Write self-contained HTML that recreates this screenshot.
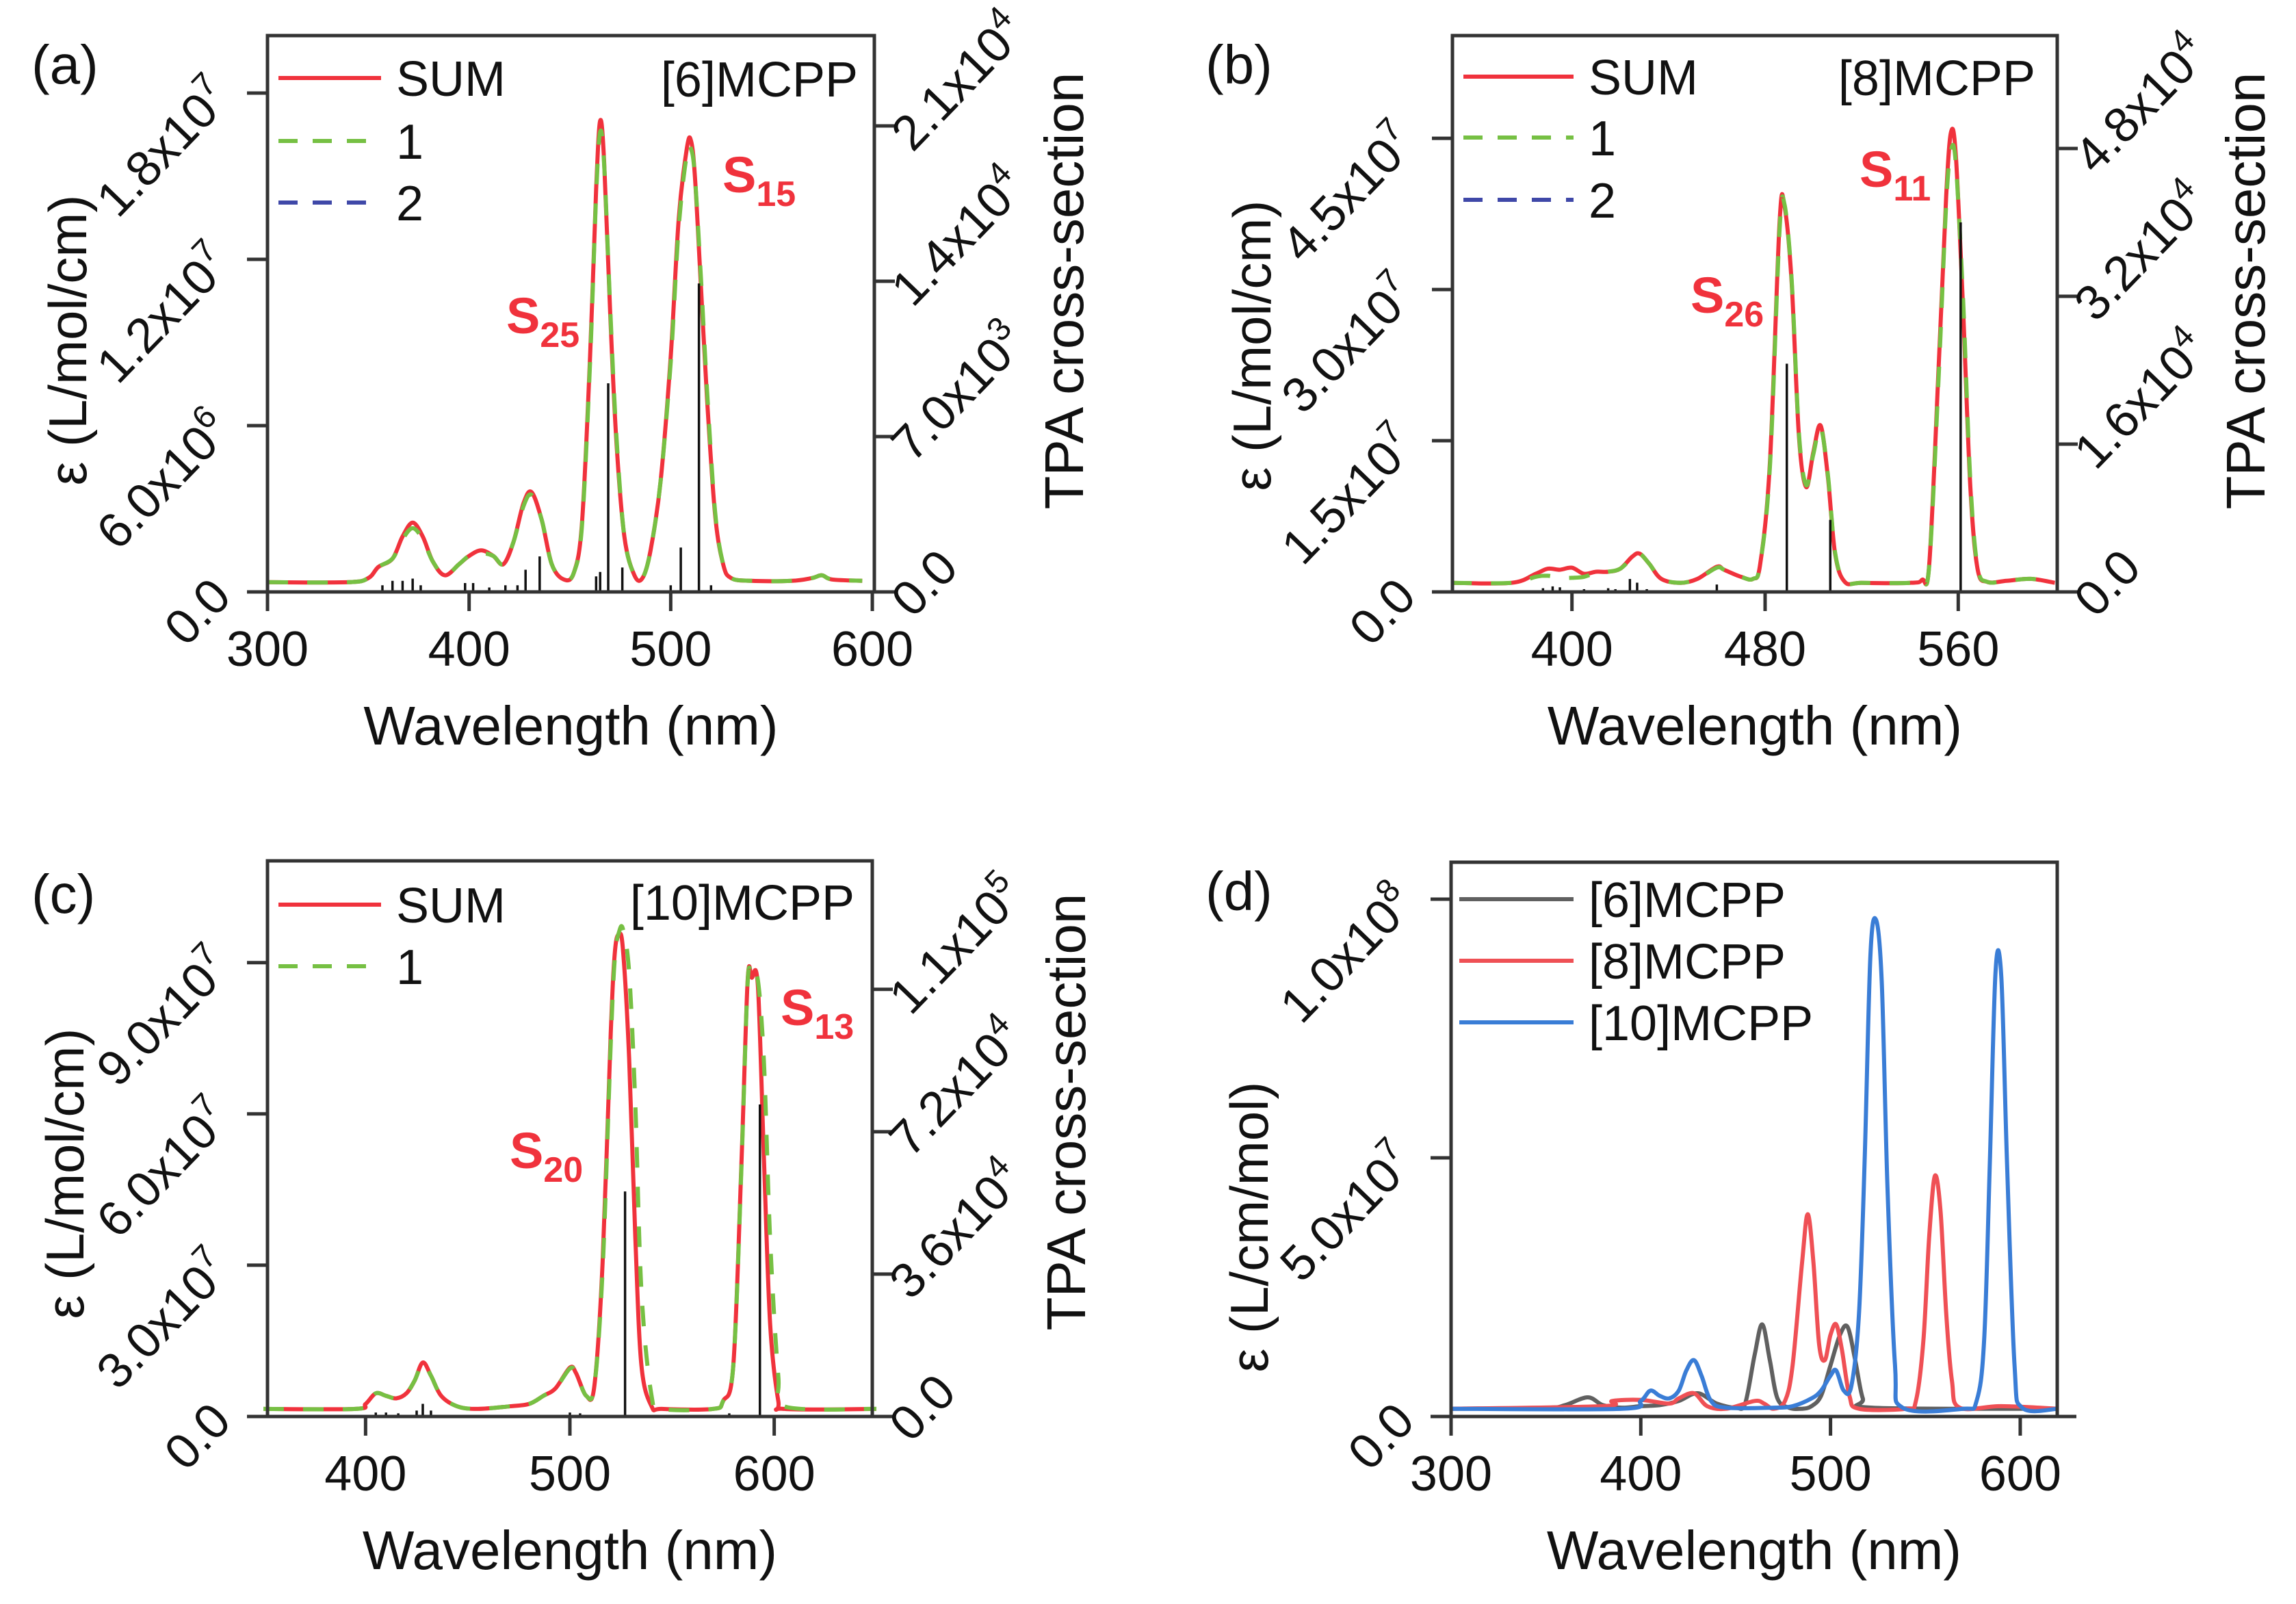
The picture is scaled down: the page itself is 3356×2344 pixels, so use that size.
<!DOCTYPE html>
<html><head><meta charset="utf-8"><style>
html,body{margin:0;padding:0;background:#fff}
svg{display:block}
text{font-family:"Liberation Sans",Arial,sans-serif;fill:#111}
</style></head>
<body>
<svg id="fig" width="3356" height="2344" viewBox="0 0 3356 2344" xmlns="http://www.w3.org/2000/svg">
<rect width="3356" height="2344" fill="#fff"/>
</svg>
<script>
// ---------- Panel (a) data ([6]MCPP), eps in 1e6, TPA in 1e3 ----------
const aWl  = [300,340,350,355,362,367,372,377,382,388,395,400,406,412,417,422,427,431,436,441,447,452,456,460,463,465,467,470,473,477,482,486,490,495,500,504,508,510,512,515,518,522,526,530,540,560,570,575,580,595];
const aSum = [0.35,0.35,0.5,0.9,1.2,2.0,2.5,2.0,1.1,0.6,1.0,1.3,1.5,1.3,1.0,1.8,3.2,3.6,2.6,1.0,0.45,0.7,2.5,8.5,14.5,17.0,15.5,10,5.5,2.0,0.6,0.5,1.5,4.0,8.5,13.5,16.0,16.3,15.0,11,7,2.8,1.0,0.5,0.4,0.4,0.5,0.6,0.45,0.4];
const aOne = [0.35,0.35,0.5,0.9,1.2,1.9,2.3,1.9,1.1,0.6,1.0,1.3,1.4,1.3,1.0,1.8,3.1,3.5,2.6,1.0,0.45,0.7,2.4,8.3,14.3,16.6,15.4,10.2,5.7,2.0,0.6,0.5,1.5,4.0,8.3,13.2,15.8,16.0,15.0,11.3,7.3,2.9,1.0,0.5,0.4,0.4,0.5,0.6,0.45,0.4];
const aStickWl  = [357,362,367,372,376,398,402,410,418,424,428,435,463,465,469,476,500,505,514,520];
const aStickVal = [0.3,0.5,0.5,0.6,0.3,0.4,0.4,0.2,0.3,0.3,1.0,1.6,0.7,0.9,9.4,1.1,0.3,2.0,13.9,0.3];
const aLeftTicks  = [0,6,12,18];
const aLeftLabels = [["0.0",""],["6.0x10","6"],["1.2x10","7"],["1.8x10","7"]];
const aRightTicks = [0,7,14,21];
const aRightLabels= [["0.0",""],["7.0x10","3"],["1.4x10","4"],["2.1x10","4"]];
const aXTicks = [300,400,500,600];

// ---------- Panel (b) data ([8]MCPP) ----------
const bWl  = [350,375,385,390,395,400,405,410,415,420,425,428,432,437,445,452,460,463,470,475,478,482,486,488,491,494,497,500,503,506,509,513,520,540,545,548,552,555,557,559,562,565,568,572,580,590,600];
const bSum = [0.9,0.9,1.8,2.3,2.2,2.4,1.8,2.0,2.0,2.3,3.5,3.8,2.8,1.3,0.9,1.3,2.5,2.2,1.5,1.3,2.8,12.9,36.7,38.3,30.7,15.5,10.4,13.9,16.5,11.4,3.8,1.0,0.9,0.9,1.2,2.8,23,39.3,45.6,43.3,28.1,10.4,2.3,1.0,1.1,1.3,0.9];
const bOne = [0.9,0.9,1.5,1.6,1.4,1.4,1.5,1.9,2.0,2.3,3.4,3.8,2.8,1.3,0.9,1.3,2.4,2.2,1.5,1.3,2.8,12.5,36.0,38.5,31.0,15.8,10.6,13.7,16.3,11.6,3.9,1.0,0.9,0.9,1.2,2.7,22,38.5,43.8,42.5,29,11,2.5,1.0,1.1,1.3,0.9];
const bStickWl  = [388,392,395,405,415,418,424,427,431,460,489,507,561];
const bStickVal = [0.4,0.6,0.5,0.3,0.4,0.3,1.4,1.0,0.3,0.8,24.7,7.8,40];
const bLeftTicks  = [0,15,30,45];
const bLeftLabels = [["0.0",""],["1.5x10","7"],["3.0x10","7"],["4.5x10","7"]];
const bRightTicks = [0,16,32,48];
const bRightLabels= [["0.0",""],["1.6x10","4"],["3.2x10","4"],["4.8x10","4"]];
const bXTicks = [400,480,560];

// ---------- Panel (c) data ([10]MCPP) ----------
const cWl  = [350,395,400,405,410,415,420,424,428,432,437,445,455,470,480,487,493,500,503,508,512,516,520,522,524,526,529,532,535,540,545,570,575,580,584,587,589,592,595,598,602,605,650];
const cSum = [1.5,1.5,2.5,4.6,4.1,3.6,4.6,7.1,10.7,8.1,4.1,2.0,1.5,2.0,2.5,4.1,5.6,9.7,8.6,4.1,6.1,30.5,76,92,95.6,92.5,71,35.6,10.2,2.0,1.5,1.5,3.1,10.2,50.8,86.4,87,85.4,50.8,18.3,3.1,1.5,1.5];
const cOne = [1.5,1.5,2.5,4.6,4.1,3.6,4.6,7.1,10.5,8.1,4.1,2.0,1.5,2.0,2.5,4.1,5.6,9.5,8.6,4.1,6.1,29,74,91,96,96.6,88,62,25,4,1.5,1.5,3.1,10.2,50,86,87,86.5,70,35,8,2,1.5];
const cStickWl  = [405,410,416,425,428,432,500,505,527,578,593];
const cStickVal = [1.0,1.0,0.8,1.5,3.2,1.5,1.0,0.8,56.9,0.8,78.9];
const cLeftTicks  = [0,30,60,90];
const cLeftLabels = [["0.0",""],["3.0x10","7"],["6.0x10","7"],["9.0x10","7"]];
const cRightTicks = [0,36,72,108];
const cRightLabels= [["0.0",""],["3.6x10","4"],["7.2x10","4"],["1.1x10","5"]];
const cXTicks = [400,500,600];

// ---------- Panel (d) data (comparison, eps in 1e6) ----------
const d6Wl  = [300,350,360,372,380,390,400,410,420,430,440,450,455,460,464,468,472,478,485,490,495,500,505,509,513,517,522,620];
const d6Val = [1.5,1.7,2.2,3.7,2.2,1.7,2.0,2.2,3.0,4.5,2.5,1.7,2.5,11.9,17.8,10.9,3.5,1.7,1.5,2.0,4.0,9.9,15.8,17.3,10.9,3.5,1.7,1.5];
const d8Wl  = [300,380,385,400,415,420,428,435,445,460,465,470,476,480,485,488,491,494,497,500,503,506,510,515,540,545,549,552,555,558,561,564,568,590,620];
const d8Val = [1.5,2.0,3.0,3.2,2.5,3.5,4.5,2.0,1.5,3.0,2.5,1.5,3.0,9.9,29.7,39.1,29.7,13.9,10.9,15.8,17.8,12.9,4.0,1.5,1.5,3.0,14.9,34.7,46.5,39.6,19.8,6.9,1.7,2.0,1.5];
const d10Wl = [300,390,400,405,410,415,420,424,428,432,437,445,470,480,490,495,500,503,507,511,515,518,521,524,527,530,534,538,570,577,581,584,587,590,593,597,601,620];
const d10Val= [1.5,1.5,3.0,5.0,4.0,3.5,5.0,8.9,10.9,7.9,3.0,1.7,1.7,2.0,3.5,5.0,7.9,8.9,5.0,5.9,19.8,49.5,89,96,84,44.6,9.9,1.7,1.5,3.0,14.9,49.5,86.1,85.1,49.5,9.9,1.7,1.5];
const dLeftTicks  = [0,50,100];
const dLeftLabels = [["0.0",""],["5.0x10","7"],["1.0x10","8"]];
const dXTicks = [300,400,500,600];

const NS = "http://www.w3.org/2000/svg";
const svg = document.getElementById('fig');
const RED="#f0323c", GREEN="#76c043", NAVY="#3f48a8";

function mk(parent, tag, attrs, name, inter){
  const el = document.createElementNS(NS, tag);
  for (const k in attrs) el.setAttribute(k, attrs[k]);
  
  
  parent.appendChild(el);
  return el;
}
function txt(parent, x, y, s, size, name, extra){
  const t = mk(parent, 'text', Object.assign({x:x, y:y, 'font-size':size}, extra||{}), name, false);
  t.textContent = s;
  return t;
}
function smoothPath(pts){
  let d = "M" + pts[0][0].toFixed(1) + "," + pts[0][1].toFixed(1);
  for (let i=0;i<pts.length-1;i++){
    const p0 = pts[i>0?i-1:i], p1 = pts[i], p2 = pts[i+1], p3 = pts[i+2<pts.length?i+2:i+1];
    const t = 6;
    const c1x = p1[0]+(p2[0]-p0[0])/t, c1y = p1[1]+(p2[1]-p0[1])/t;
    const c2x = p2[0]-(p3[0]-p1[0])/t, c2y = p2[1]-(p3[1]-p1[1])/t;
    d += " C"+c1x.toFixed(1)+","+c1y.toFixed(1)+" "+c2x.toFixed(1)+","+c2y.toFixed(1)+" "+p2[0].toFixed(1)+","+p2[1].toFixed(1);
  }
  return d;
}
function rotLabel(parent, x, y, parts, anchor, name){
  const t = mk(parent, 'text', {x:0, y:0, 'font-size':72, 'text-anchor':anchor,
    transform:'translate('+x+','+y+') rotate(-46)'}, name, false);
  t.appendChild(document.createTextNode(parts[0]));
  if (parts[1]){
    const s = document.createElementNS(NS,'tspan');
    s.setAttribute('font-size', 48);
    s.setAttribute('dy', -30);
    s.textContent = parts[1];
    t.appendChild(s);
  }
  return t;
}

function panel(c){
  const g = mk(svg, 'g', {}, 'panel-'+c.id, false);
  const sx = w => c.L + (w - c.x0)/(c.x1 - c.x0)*(c.R - c.L);
  const syl = v => c.B - v*c.kl;
  const syr = v => c.B - v*c.kr;
  c.series.forEach(s=>{
    const pts = s.wl.map((w,i)=>[sx(w), syl(s.val[i])]);
    mk(g, 'path', {d:smoothPath(pts), fill:'none', stroke:s.color, 'stroke-width':6,
      'stroke-linejoin':'round', 'stroke-dasharray': s.dash||'none'}, s.name, false);
  });
  if (c.sticksWl){
    c.sticksWl.forEach((w,i)=>{
      mk(g, 'line', {x1:sx(w), x2:sx(w), y1:c.B, y2:syr(c.sticksVal[i]), stroke:'#111', 'stroke-width':3.5}, 'tpa-stick', false);
    });
  }
  mk(g, 'path', {d:'M'+c.L+','+c.B+' V'+c.T+' H'+c.R+' V'+c.B, fill:'none', stroke:'#333', 'stroke-width':5}, 'plot-frame', false);
  mk(g, 'line', {x1:c.L-28, x2:c.R+28, y1:c.B, y2:c.B, stroke:'#333', 'stroke-width':5}, 'x-axis-line', false);
  c.xt.forEach(v=>{
    mk(g, 'line', {x1:sx(v), x2:sx(v), y1:c.B, y2:c.B+28, stroke:'#333', 'stroke-width':5}, 'x-tick', false);
    txt(g, sx(v), c.B+108, String(v), 72, 'x-tick-label', {'text-anchor':'middle'});
  });
  c.lt.forEach((v,i)=>{
    mk(g, 'line', {x1:c.L-30, x2:c.L, y1:syl(v), y2:syl(v), stroke:'#333', 'stroke-width':5}, 'y-tick-left', false);
    rotLabel(g, c.L-50, syl(v)+10, c.ll[i], 'end', 'y-tick-label-left');
  });
  if (c.rt){
    c.rt.forEach((v,i)=>{
      mk(g, 'line', {x1:c.R, x2:c.R+30, y1:syr(v), y2:syr(v), stroke:'#333', 'stroke-width':5}, 'y-tick-right', false);
      rotLabel(g, c.R+56, syr(v)+40, c.rl[i], 'start', 'y-tick-label-right');
    });
  }
  txt(g, (c.L+c.R)/2, c.B+223, 'Wavelength (nm)', 80, 'x-axis-title', {'text-anchor':'middle'});
  txt(g, 0, 0, c.ylab, 78, 'y-axis-title', {'text-anchor':'middle', transform:'translate('+c.ylx+','+c.yly+') rotate(-90)'});
  if (c.rlab) txt(g, 0, 0, 'TPA cross-section', 80, 'y-axis-title-right', {'text-anchor':'middle', transform:'translate('+c.rlx+','+c.rly+') rotate(-90)'});
  txt(g, c.plx, c.ply, c.tag, 80, 'panel-label');
  c.legend.forEach((e,i)=>{
    const y = c.legY[i];
    mk(g, 'line', {x1:c.legX1, x2:c.legX2, y1:y, y2:y, stroke:e.color, 'stroke-width':6, 'stroke-dasharray':e.dash||'none'}, 'legend-line', false);
    txt(g, c.legX2+22, y+26, e.label, 72, 'legend-entry');
  });
  if (c.mol) txt(g, c.molX, c.molY, c.mol, 72, 'molecule-label', {'text-anchor':'end'});
  (c.states||[]).forEach(s=>{
    const t = mk(g, 'text', {x:s[0], y:s[1], 'font-size':74, 'font-weight':'bold', style:'fill:'+RED}, 'state-label', false);
    t.appendChild(document.createTextNode('S'));
    const sub = document.createElementNS(NS,'tspan');
    sub.setAttribute('font-size', 52);
    sub.setAttribute('dy', 20);
    sub.setAttribute('style', 'fill:'+RED);
    sub.textContent = s[2];
    t.appendChild(sub);
  });
  return g;
}

panel({id:'a', tag:'(a)', plx:46, ply:122, L:391, R:1278, T:52, B:865, x0:300, x1:601, kl:40.5, kr:32.43,
  series:[{wl:aWl,val:aSum,color:RED,name:'sum-curve'},{wl:aWl,val:aOne,color:GREEN,dash:'30 28',name:'conformer-1-curve'}],
  sticksWl:aStickWl, sticksVal:aStickVal,
  xt:aXTicks, lt:aLeftTicks, ll:aLeftLabels, rt:aRightTicks, rl:aRightLabels,
  ylab:'ε (L/mol/cm)', ylx:126, yly:497, rlab:true, rlx:1583, rly:425,
  legX1:407, legX2:557, legY:[114,206,296],
  legend:[{label:'SUM',color:RED},{label:'1',color:GREEN,dash:'28 22'},{label:'2',color:NAVY,dash:'28 22'}],
  mol:'[6]MCPP', molX:1254, molY:141,
  states:[[740,487,'25'],[1056,281,'15']]});

panel({id:'b', tag:'(b)', plx:1762, ply:122, L:2123, R:3007, T:52, B:865, x0:350.5, x1:601, kl:14.73, kr:13.5,
  series:[{wl:bWl,val:bSum,color:RED,name:'sum-curve'},{wl:bWl,val:bOne,color:GREEN,dash:'30 28',name:'conformer-1-curve'}],
  sticksWl:bStickWl, sticksVal:bStickVal,
  xt:bXTicks, lt:bLeftTicks, ll:bLeftLabels, rt:bRightTicks, rl:bRightLabels,
  ylab:'ε (L/mol/cm)', ylx:1857, yly:505, rlab:true, rlx:3310, rly:425,
  legX1:2139, legX2:2300, legY:[112,201,292],
  legend:[{label:'SUM',color:RED},{label:'1',color:GREEN,dash:'28 22'},{label:'2',color:NAVY,dash:'28 22'}],
  mol:'[8]MCPP', molX:2975, molY:139,
  states:[[2471,457,'26'],[2718,273,'11']]});

panel({id:'c', tag:'(c)', plx:46, ply:1334, L:391, R:1275, T:1258, B:2070, x0:352, x1:648, kl:7.37, kr:5.78,
  series:[{wl:cWl,val:cSum,color:RED,name:'sum-curve'},{wl:cWl,val:cOne,color:GREEN,dash:'30 28',name:'conformer-1-curve'}],
  sticksWl:cStickWl, sticksVal:cStickVal,
  xt:cXTicks, lt:cLeftTicks, ll:cLeftLabels, rt:cRightTicks, rl:cRightLabels,
  ylab:'ε (L/mol/cm)', ylx:122, yly:1715, rlab:true, rlx:1586, rly:1625,
  legX1:407, legX2:557, legY:[1322,1412],
  legend:[{label:'SUM',color:RED},{label:'1',color:GREEN,dash:'28 22'}],
  mol:'[10]MCPP', molX:1249, molY:1344,
  states:[[745,1707,'20'],[1141,1498,'13']]});

panel({id:'d', tag:'(d)', plx:1762, ply:1330, L:2121, R:3007, T:1260, B:2070, x0:300, x1:619.5, kl:7.56,
  series:[{wl:d6Wl,val:d6Val,color:'#606060',name:'series-6mcpp'},{wl:d8Wl,val:d8Val,color:'#ef5055',name:'series-8mcpp'},{wl:d10Wl,val:d10Val,color:'#3a7dd6',name:'series-10mcpp'}],
  xt:dXTicks, lt:dLeftTicks, ll:dLeftLabels,
  ylab:'ε (L/cm/mol)', ylx:1853, yly:1793,
  legX1:2133, legX2:2300, legY:[1314,1404,1494],
  legend:[{label:'[6]MCPP',color:'#606060'},{label:'[8]MCPP',color:'#ef5055'},{label:'[10]MCPP',color:'#3a7dd6'}]});
</script>
</body></html>
